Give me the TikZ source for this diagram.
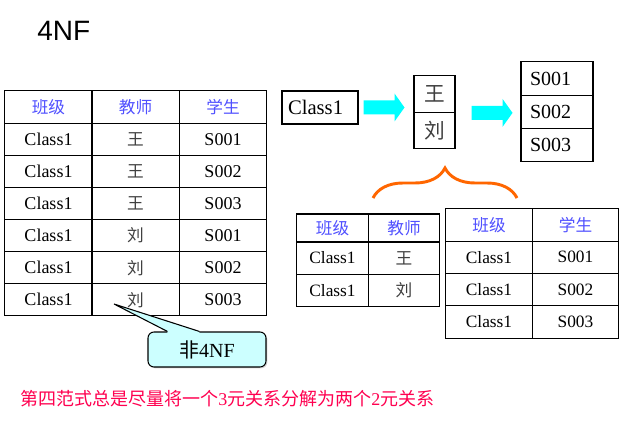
\documentclass[tikz,border=0pt]{standalone}
\usepackage{fontspec}
\setmainfont{Liberation Serif}
\setsansfont{Liberation Sans}
\newfontfamily\cjk{Noto Sans CJK SC}
\usetikzlibrary{
    positioning,
    calc,
    shadows,
    decorations.pathreplacing
    }

\definecolor{headblue}{RGB}{80,80,255}
\definecolor{notered}{RGB}{255,0,80}
\definecolor{notefill}{RGB}{204,255,255}
\definecolor{braceorange}{RGB}{255,102,0}
\definecolor{arrowcyan}{RGB}{0,255,255}

\begin{document}
\begin{tikzpicture}[x=0.75pt, y=-0.75pt]
% chktex-file 8
\tikzset{cell/.style =
        {
            rectangle,
            draw,
            line width=0.8pt,
            inner sep=0pt,
            minimum width=65.5pt,
            minimum height=24.1pt,
            font=\fontsize{13.5}{16}\selectfont
        }
}

\tikzset{head/.style =
        {
            cell,
            text=headblue,
            font=\cjk\fontsize{12.5}{15}\selectfont
        }
}

\tikzset{teacher/.style =
        {
            cell,
            text=black!75,
            font=\cjk\fontsize{12.5}{15}\selectfont
        }
}

\tikzset{list cell/.style =
        {
            cell,
            minimum width=54pt,
            minimum height=25pt,
            text width=40.5pt,
            align=left,
            font=\fontsize{15}{18}\selectfont
        }
}

\tikzset{note/.style =
        {
            rectangle,
            rounded corners=4.5pt,
            draw,
            line width=0.8pt,
            fill=notefill,
            drop shadow={shadow xshift=1pt, shadow yshift=-1pt, opacity=0.3},
            minimum width=88.5pt,
            minimum height=26.25pt,
            inner sep=0pt,
            font=\fontsize{15}{18}\selectfont
        }
}

\tikzset{brace/.style =
        {
            braceorange,
            line width=2.2pt,
            decorate,
            decoration={brace, amplitude=22.5pt}
        }
}

\tikzset{fat arrow/.pic = {
            \fill[arrowcyan] (0,-7) -- (31,-7) -- (31,-14) -- (41,0) -- (31,14) -- (31,7) -- (0,7) -- cycle;
        }
}

        \fill[white] (0,0) rectangle (626,428);

        \node[anchor=west, inner sep=0pt, font=\sffamily\fontsize{21}{24}\selectfont] (title) at (37,31) {4NF};

        % left table
        \foreach \c / \x / \h in {1/48.5/班级, 2/135.5/教师, 3/223/学生}
        \node[head] (left-0-\c) at (\x,107) {\h};

        \foreach \r / \t / \s in
            {1/王/S001,
                2/王/S002,
                3/王/S003,
                4/刘/S001,
                5/刘/S002,
                6/刘/S003}
            {
                \node[cell] (left-\r-1) at (48.5,{107+32.14*\r}) {Class1};
                \node[teacher] (left-\r-2) at (135.5,{107+32.14*\r}) {\t};
                \node[cell] (left-\r-3) at (223,{107+32.14*\r}) {\s};
            }

        \node[note] (note) at (207,349.5) {{\cjk 非}4NF};
        \coordinate (note-tip) at (114,304);
        \fill[notefill] ($(note.north west)+(20,0)$) -- (note-tip) -- ($(note.north west)+(52,0)$)
            -- ($(note.north west)+(52,2)$) -- ($(note.north west)+(20,2)$) -- cycle;
        \draw[line width=0.8pt] ($(note.north west)+(20,0)$) -- (note-tip) -- ($(note.north west)+(52,0)$);

        % decomposition
        \node[cell, minimum width=57pt, minimum height=24.75pt, text width=48pt, align=left,
            font=\fontsize{15.5}{18}\selectfont] (class1) at (320,107.5) {Class1};

        \foreach \r / \t in {1/王, 2/刘}
        \node[teacher, minimum width=30.75pt, minimum height=27.5pt, font=\cjk\fontsize{15.5}{18}\selectfont]
            (mid-\r) at (434.5,{57.5+36.5*\r}) {\t};

        \foreach \r / \s in {1/S001, 2/S002, 3/S003}
        \node[list cell] (stud-\r) at (557,{45.3+33.3*\r}) {\s};

        \pic at ([xshift=3.75pt]class1.east) {fat arrow};
        \pic at ([xshift=12pt]mid-1.south east) {fat arrow};

        \coordinate (brace-l) at (373,198);
        \coordinate (brace-r) at (517,198);
        \draw[brace] (brace-l) -- (brace-r);

        % class / teacher
        \foreach \c / \x / \h in {1/332.5/班级, 2/404/教师}
        \node[head, minimum width=53.6pt, minimum height=21pt] (ct-0-\c) at (\x,228) {\h};
        \foreach \r / \y / \t in {1/258/王, 2/290.5/刘}
            {
                \node[cell, minimum width=53.6pt, minimum height=24.4pt, font=\fontsize{13}{16}\selectfont]
                    (ct-\r-1) at (332.5,\y) {Class1};
                \node[teacher, minimum width=53.6pt, minimum height=24.4pt] (ct-\r-2) at (404,\y) {\t};
            }

        % class / student
        \foreach \c / \x / \h in {1/489/班级, 2/575.5/学生}
        \node[head, minimum width=64.9pt, minimum height=24.2pt] (cs-0-\c) at (\x,225) {\h};
        \foreach \r / \s in {1/S001, 2/S002, 3/S003}
            {
                \node[cell, minimum width=64.9pt, minimum height=24.2pt, font=\fontsize{13}{16}\selectfont]
                    (cs-\r-1) at (489,{225+32.3*\r}) {Class1};
                \node[cell, minimum width=64.9pt, minimum height=24.2pt, font=\fontsize{13}{16}\selectfont]
                    (cs-\r-2) at (575.5,{225+32.3*\r}) {\s};
            }

        \node[anchor=west, inner sep=0pt, text=notered, font=\cjk\fontsize{13.5}{16}\selectfont] (summary)
            at (20,399) {第四范式总是尽量将一个{\rmfamily 3}元关系分解为两个{\rmfamily 2}元关系};

\end{tikzpicture}
\end{document}
